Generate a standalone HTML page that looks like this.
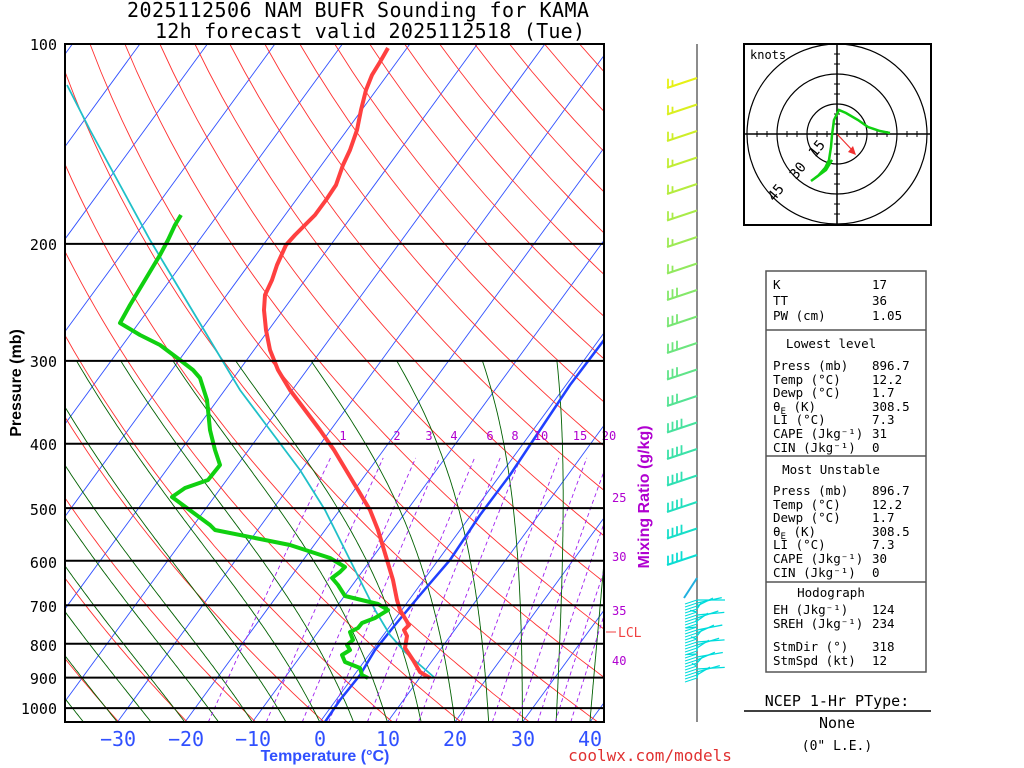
<!DOCTYPE html>
<html><head><meta charset="utf-8"><style>
body{margin:0;background:#fff}
svg{display:block;font-family:"DejaVu Sans Mono","Liberation Mono",monospace}
</style></head><body>
<svg id="s" width="1024" height="768" viewBox="0 0 1024 768" xmlns="http://www.w3.org/2000/svg">
<defs><clipPath id="c"><rect x="65" y="44" width="539" height="678"/></clipPath></defs>
<g id="grid" clip-path="url(#c)"></g>
<g id="data" clip-path="url(#c)"></g>
<g id="ov"></g>
<text x="358" y="17" font-size="20" text-anchor="middle" textLength="462">2025112506 NAM BUFR Sounding for KAMA</text>
<text x="370" y="38" font-size="20" text-anchor="middle" textLength="430">12h forecast valid 2025112518 (Tue)</text>
<text transform="translate(21,383) rotate(-90)" font-size="16" font-weight="bold" text-anchor="middle" font-family="Liberation Sans,sans-serif">Pressure (mb)</text>
<text transform="translate(649,497) rotate(-90)" font-size="16" font-weight="bold" fill="#b000d0" text-anchor="middle" font-family="Liberation Sans,sans-serif">Mixing Ratio (g/kg)</text>
<text x="325" y="761" font-size="16" font-weight="bold" fill="#3050ff" text-anchor="middle" font-family="Liberation Sans,sans-serif">Temperature (°C)</text>
<text x="650" y="761" font-size="16" fill="#e03030" text-anchor="middle">coolwx.com/models</text>
<g font-size="20" fill="#3050ff" text-anchor="middle">
<text x="118" y="746">−30</text><text x="186" y="746">−20</text><text x="253" y="746">−10</text><text x="320" y="746">0</text><text x="388" y="746">10</text><text x="455" y="746">20</text><text x="523" y="746">30</text><text x="590" y="746">40</text></g>
<g font-size="15" text-anchor="end">
<text x="57" y="50">100</text><text x="57" y="250">200</text><text x="57" y="367">300</text><text x="57" y="450">400</text><text x="57" y="515">500</text><text x="57" y="568">600</text><text x="57" y="612">700</text><text x="57" y="651">800</text><text x="57" y="684">900</text><text x="57" y="714">1000</text></g>
<g font-size="12" fill="#b000d0">
<text x="612" y="502">25</text><text x="612" y="561">30</text><text x="612" y="615">35</text><text x="612" y="665">40</text></g>
<line x1="606" y1="632" x2="616" y2="632" stroke="#f04040"/>
<text x="618" y="637" font-size="13" fill="#f04040">LCL</text>
<line x1="697" y1="44" x2="697" y2="722" stroke="#666" stroke-width="1.5"/>
<g id="barbs"></g>
<rect x="744" y="44" width="187" height="181" fill="none" stroke="#000" stroke-width="2"/>
<g id="hodo"></g>
<text x="750" y="59" font-size="12">knots</text>
<rect x="766" y="271" width="160" height="401" fill="none" stroke="#555" stroke-width="1.5"/>
<g stroke="#555" stroke-width="1.5"><line x1="766" y1="330" x2="926" y2="330"/><line x1="766" y1="456" x2="926" y2="456"/><line x1="766" y1="582" x2="926" y2="582"/></g>
<g font-size="12.5">
<text x="773" y="289">K</text><text x="872" y="289">17</text>
<text x="773" y="305">TT</text><text x="872" y="305">36</text>
<text x="773" y="320">PW (cm)</text><text x="872" y="320">1.05</text>
<text x="831" y="348" text-anchor="middle">Lowest level</text>
<text x="773" y="370">Press (mb)</text><text x="872" y="370">896.7</text>
<text x="773" y="384">Temp (°C)</text><text x="872" y="384">12.2</text>
<text x="773" y="397">Dewp (°C)</text><text x="872" y="397">1.7</text>
<text x="773" y="411">θ<tspan font-size="9" dy="3">E</tspan><tspan dy="-3"> (K)</tspan></text><text x="872" y="411">308.5</text>
<text x="773" y="424">LI (°C)</text><text x="872" y="424">7.3</text>
<text x="773" y="438">CAPE (Jkg⁻¹)</text><text x="872" y="438">31</text>
<text x="773" y="452">CIN (Jkg⁻¹)</text><text x="872" y="452">0</text>
<text x="831" y="474" text-anchor="middle">Most Unstable</text>
<text x="773" y="495">Press (mb)</text><text x="872" y="495">896.7</text>
<text x="773" y="509">Temp (°C)</text><text x="872" y="509">12.2</text>
<text x="773" y="522">Dewp (°C)</text><text x="872" y="522">1.7</text>
<text x="773" y="536">θ<tspan font-size="9" dy="3">E</tspan><tspan dy="-3"> (K)</tspan></text><text x="872" y="536">308.5</text>
<text x="773" y="549">LI (°C)</text><text x="872" y="549">7.3</text>
<text x="773" y="563">CAPE (Jkg⁻¹)</text><text x="872" y="563">30</text>
<text x="773" y="577">CIN (Jkg⁻¹)</text><text x="872" y="577">0</text>
<text x="831" y="597" text-anchor="middle">Hodograph</text>
<text x="773" y="614">EH (Jkg⁻¹)</text><text x="872" y="614">124</text>
<text x="773" y="628">SREH (Jkg⁻¹)</text><text x="872" y="628">234</text>
<text x="773" y="651">StmDir (°)</text><text x="872" y="651">318</text>
<text x="773" y="665">StmSpd (kt)</text><text x="872" y="665">12</text>
</g>
<text x="837" y="706" font-size="15" text-anchor="middle">NCEP 1-Hr PType:</text>
<line x1="744" y1="711" x2="931" y2="711" stroke="#000" stroke-width="1.5"/>
<text x="837" y="728" font-size="15" text-anchor="middle">None</text>
<text x="837" y="750" font-size="13" text-anchor="middle">(0" L.E.)</text>
</svg>
<script>
const NS="http://www.w3.org/2000/svg";
function el(p,t,a){const e=document.createElementNS(NS,t);for(const k in a)e.setAttribute(k,a[k]);p.appendChild(e);return e;}
const S=0.73;
const Y=p=>44+288.4*Math.log(p/100);
const X=(T,p)=>320+6.75*T+(722-Y(p))*S;
const g=document.getElementById('grid'),d=document.getElementById('data'),ov=document.getElementById('ov');
function pl(par,pts,st,w,extra){const a={points:pts.map(q=>q[0].toFixed(1)+','+q[1].toFixed(1)).join(' '),fill:'none',stroke:st,'stroke-width':w};Object.assign(a,extra||{});return el(par,'polyline',a);}
for(let T=-150;T<=60;T+=10){pl(g,[[X(T,1050),Y(1050)],[X(T,100),Y(100)]],'#3050ff',0.9);}
for(let th=230;th<=500;th+=10){const pts=[];for(let p=1050;p>=100;p-=10){const T=th*Math.pow(p/1000,0.2857)-273.15;pts.push([X(T,p),Y(p)]);}pl(g,pts,'#ff3030',0.9);}
function es(T){return 6.112*Math.exp(17.67*T/(T+243.5));}
function mlapse(T,p){const Tk=T+273.15;const r=0.622*es(T)/(p-es(T));const Lv=2.5e6,Rd=287,cp=1005,eps=0.622;
return (Rd*Tk+Lv*r)/(cp+Lv*Lv*r*eps/(Rd*Tk*Tk))/p;}
for(let T0=-40;T0<=45;T0+=5){let T=T0,pts=[];for(let p=1050;p>=300;p-=5){pts.push([X(T,p),Y(p)]);T-=mlapse(T,p)*5;}pl(g,pts,'#006000',0.9);}
const ws=[1,2,3,4,6,8,10,15,20,25,30,35,40];
function tdw(w,p){const e=w*p/(622+w);const l=Math.log(e/6.112);return 243.5*l/(17.67-l);}
for(const w of ws){const pts=[];for(let p=1050;p>=412;p-=10)pts.push([X(tdw(w,p),p),Y(p)]);pl(g,pts,'#a020f0',0.9,{'stroke-dasharray':'4,3'});}
[[1,343],[2,397],[3,429],[4,454],[6,490],[8,515],[10,541],[15,580],[20,609]].forEach(a=>{const t=el(ov,'text',{x:a[1],y:440,'font-size':12,fill:'#b000d0','text-anchor':'middle'});t.textContent=a[0];});
[100,200,300,400,500,600,700,800,900,1000].forEach(p=>el(ov,'line',{x1:65,y1:Y(p),x2:604,y2:Y(p),stroke:'#000','stroke-width':2}));
el(ov,'rect',{x:65,y:44,width:539,height:678,fill:'none',stroke:'#000','stroke-width':2});
const par=[[325,722],[340,700],[360,675],[375,650],[395,625],[420,595],[450,560],[480,515],[510,475],[540,430],[570,385],[604,340]];
pl(d,par,'#2040ff',2.5);
const cy=[[67,85],[90,130],[120,185],[150,240],[180,290],[210,340],[240,390],[270,430],[300,470],[325,510],[345,550],[360,580],[375,610],[390,635],[405,652],[420,665],[435,678]];
pl(d,cy,'#20c0c8',1.8);
const tt=[[430,678],[420,672],[413,660],[405,648],[407,636],[404,630],[409,625],[400,610],[397,600],[393,580],[387,560],[378,530],[370,510],[358,490],[346,470],[334,450],[320,430],[305,410],[290,390],[278,370],[270,350],[266,330],[264,310],[265,295],[272,280],[277,265],[286,245],[295,235],[315,215],[326,200],[336,185],[343,165],[350,150],[357,130],[361,110],[366,90],[372,75],[380,62],[388,48]];
pl(d,tt,'#ff4040',4,{'stroke-linejoin':'round'});
const dw=[[368,678],[362,675],[360,668],[345,662],[342,655],[350,650],[347,645],[353,640],[350,632],[358,628],[362,623],[375,618],[388,610],[378,604],[345,596],[338,585],[332,578],[340,572],[345,567],[330,558],[290,545],[215,530],[210,525],[172,497],[185,488],[208,480],[220,465],[215,450],[210,430],[207,400],[200,378],[193,370],[180,360],[160,345],[140,335],[120,323],[130,305],[145,280],[160,255],[168,240],[175,225],[181,215]];
pl(d,dw,'#10d010',4,{'stroke-linejoin':'round'});
const bg=document.getElementById('barbs');
function col(y){const t=Math.min(1,Math.max(0,(y-78)/500));const r=Math.round(230*(1-t)),gg=Math.round(240-20*t),b=Math.round(20+200*t);return `rgb(${r},${gg},${b})`;}
for(let y=78;y<=575;y+=26.5){const c=col(y);const n=y<270?2:(y<400?3:4);
 el(bg,'line',{x1:697,y1:y,x2:667,y2:y+10,stroke:c,'stroke-width':2});
 for(let i=0;i<n;i++){const bx=668+i*4.5,by=y+9.7-i*1.5;const L=(i==n-1&&n==2)?6:9;el(bg,'line',{x1:bx,y1:by,x2:bx,y2:by-L,stroke:c,'stroke-width':1.8});}}
for(let y=600;y<=678;y+=3){const c=col(y);const a=(y*37)%50;el(bg,'line',{x1:697,y1:y,x2:697+22*Math.cos(a/20)+6,y2:y-8*Math.sin(a/15),stroke:c,'stroke-width':1.3});el(bg,'line',{x1:697,y1:y,x2:685,y2:y+4,stroke:c,'stroke-width':1});}
el(bg,'line',{x1:697,y1:578,x2:684,y2:598,stroke:'#20b0e0','stroke-width':2});
const h=document.getElementById('hodo');const hx=837,hy=134;
[30,60,90].forEach(r=>el(h,'circle',{cx:hx,cy:hy,r:r,fill:'none',stroke:'#000','stroke-width':1.2}));
el(h,'line',{x1:745,y1:hy,x2:930,y2:hy,stroke:'#000','stroke-width':1.5});
el(h,'line',{x1:hx,y1:45,x2:hx,y2:224,stroke:'#000','stroke-width':1.5});
for(let k=-9;k<=9;k++){if(!k)continue;el(h,'line',{x1:hx+k*10,y1:hy-3,x2:hx+k*10,y2:hy+3,stroke:'#000'});el(h,'line',{x1:hx-3,y1:hy+k*10,x2:hx+3,y2:hy+k*10,stroke:'#000'});}
pl(h,[[890,133],[880,131],[868,127],[858,120],[846,113],[839,110],[834,120],[832,135],[831,147],[829,160],[825,168],[818,176],[811,181],[826,170],[832,160],[823,172],[815,178]],'#10d010',2.5);
el(h,'line',{x1:hx,y1:hy,x2:853,y2:151,stroke:'#f03030','stroke-width':1.2});
el(h,'polygon',{points:'856,155 848,152 853,146',fill:'#f03030'});
[['15',815,158],['30',796,180],['45',774,202]].forEach(a=>{const t=el(h,'text',{x:a[1],y:a[2],'font-size':14,transform:`rotate(-50 ${a[1]} ${a[2]})`});t.textContent=a[0];});
</script>
</body></html>
